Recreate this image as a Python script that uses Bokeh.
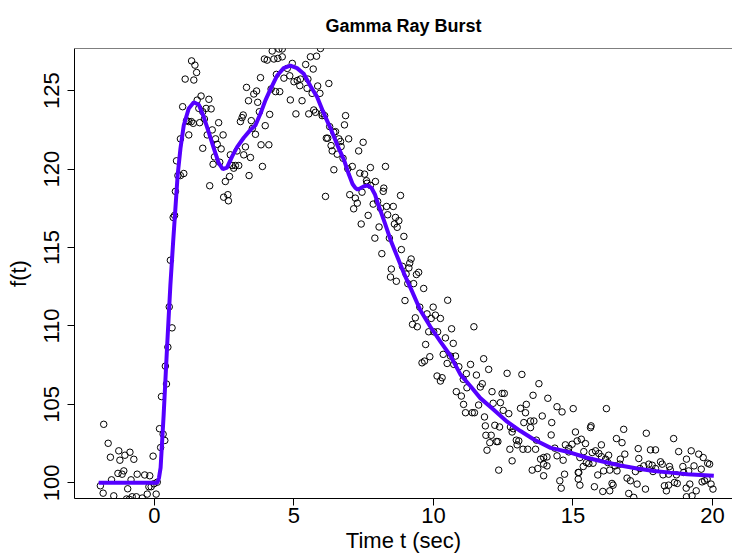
from bokeh.plotting import figure
from bokeh.models import Span, FixedTicker, Range1d
from bokeh.embed import file_html
from bokeh.resources import INLINE

# ---- data ----
t_obs = [-1.94, -1.84, -1.82, -1.66, -1.58, -1.54, -1.46, -1.31, -1.28, -1.24, -1.16, -1.1, -1.06, -1.0, -0.96,
         -0.9, -0.88, -0.84, -0.8, -0.74, -0.65, -0.62, -0.44, -0.35, -0.26, -0.2, -0.17, -0.12, -0.05, -0.02,
         0.06, 0.1, 0.18, 0.22, 0.31, 0.37,
         0.25, 0.39, 0.43, 0.48, 0.53, 0.57, 0.63, 0.67, 0.72, 0.75, 0.79, 0.84, 0.93, 0.93, 1.01, 1.05,
         1.1, 1.15, 1.23, 1.23, 1.32, 1.33, 1.39, 1.41, 1.45, 1.51, 1.53, 1.59, 1.62, 1.67, 1.73, 1.73,
         1.79, 1.85, 1.89, 1.95, 1.98, 2.03, 2.07, 2.1, 2.15, 2.19, 2.25, 2.3, 2.34, 2.39, 2.46, 2.48,
         2.54, 2.63, 2.65, 2.69, 2.72, 2.78, 2.84, 2.9, 2.96, 3.02, 3.08, 3.14, 3.18, 3.2, 3.26, 3.3,
         3.37, 3.39, 3.44, 3.47, 3.51, 3.56, 3.62, 3.66, 3.7, 3.76, 3.8, 3.82, 3.87, 3.94, 3.97, 4.04,
         4.1, 4.13, 4.18, 4.22, 4.28, 4.34, 4.37, 4.42, 4.46, 4.49, 4.58, 4.58, 4.64, 4.76, 4.85, 4.87,
         4.94, 5.0, 5.07, 5.12, 5.21, 5.23, 5.29, 5.42, 5.47, 5.5, 5.53, 5.59, 5.65, 5.69, 5.71, 5.77,
         5.81, 5.85, 5.93, 5.95, 6.01, 6.01, 6.1, 6.13, 6.16, 6.21, 6.25, 6.28, 6.33, 6.37, 6.43, 6.43,
         6.49, 6.55, 6.61, 6.67, 6.69, 6.76, 6.81, 6.85, 6.93, 6.96, 7.0, 7.09, 7.14, 7.2, 7.27, 7.32,
         7.36, 7.41, 7.44, 7.48, 7.53, 7.6, 7.62, 7.66, 7.74, 7.74, 7.84, 7.9, 7.92, 8.0, 8.05, 8.1,
         8.15, 8.2, 8.22, 8.28, 8.32, 8.36, 8.42, 8.46, 8.49, 8.56, 8.6, 8.64, 8.67, 8.7, 8.76, 8.82,
         8.85, 8.89, 8.94, 8.98, 9.02, 9.08, 9.12, 9.15, 9.2, 9.25, 9.29, 9.35, 9.39, 9.42, 9.47, 9.51,
         9.59, 9.65, 9.68, 9.72, 9.77, 9.83, 9.87, 9.92, 9.99, 10.01, 10.07, 10.13, 10.15, 10.25, 10.25, 10.31,
         10.35, 10.43, 10.49, 10.51, 10.61, 10.65, 10.71, 10.73, 10.79, 10.82, 10.91, 11.0, 11.07, 11.08, 11.15, 11.18,
         11.2, 11.33, 11.39, 11.45, 11.47, 11.54, 11.62, 11.68, 11.75, 11.8, 11.83, 11.86, 11.88, 11.92, 11.98, 12.02,
         12.07, 12.1, 12.14, 12.2, 12.26, 12.31, 12.34, 12.37, 12.4, 12.46, 12.5, 12.54, 12.64, 12.7, 12.74, 12.76,
         12.82, 12.82, 12.86, 12.97, 13.0, 13.06, 13.12, 13.17, 13.21, 13.24, 13.3, 13.33, 13.38, 13.48, 13.48, 13.54,
         13.57, 13.6, 13.66, 13.69, 13.74, 13.78, 13.84, 13.9, 13.95, 13.95, 13.95, 14.07, 14.07, 14.1, 14.22, 14.24,
         14.35, 14.43, 14.43, 14.53, 14.58, 14.61, 14.65, 14.7, 14.73, 14.85, 14.85, 14.97, 15.01, 15.09, 15.15, 15.19,
         15.19, 15.21, 15.25, 15.25, 15.3, 15.37, 15.39, 15.45, 15.48, 15.57, 15.63, 15.65, 15.69, 15.72, 15.77, 15.81,
         15.89, 15.93, 16.02, 16.02, 16.07, 16.1, 16.17, 16.2, 16.25, 16.28, 16.32, 16.32, 16.4, 16.44, 16.51, 16.56,
         16.58, 16.68, 16.7, 16.76, 16.82, 16.86, 16.94, 17.0, 17.06, 17.18, 17.24, 17.3, 17.34, 17.36, 17.4, 17.54,
         17.6, 17.63, 17.72, 17.78, 17.84, 17.87, 17.96, 17.96, 18.14, 18.2, 18.23, 18.28, 18.35, 18.43, 18.43, 18.46,
         18.49, 18.61, 18.64, 18.71, 18.74, 18.79, 18.94, 18.97, 19.06, 19.07, 19.07, 19.15, 19.19, 19.24, 19.27, 19.34,
         19.42, 19.51, 19.6, 19.63, 19.67, 19.72, 19.81, 19.83, 19.9, 19.95, 20.02]
f_obs = [99.81, 99.34, 103.73, 102.52, 101.63, 100.19, 99.17, 100.6, 102.04, 101.44, 100.55, 100.76, 101.76, 98.97, 99.62,
         98.95, 101.95, 100.19, 99.11, 101.5, 99.11, 100.55, 99.03, 100.5, 99.28, 99.75, 100.45, 99.75, 101.7, 99.94,
         99.28, 100.04, 103.45, 102.25, 103.1, 102.7,
         105.5, 107.44, 106.3, 108.65, 111.22, 114.19, 109.88, 116.92, 117.05, 118.58, 120.53, 119.59, 119.59, 121.93, 123.98, 119.72,
         125.74, 123.09, 123.03, 122.18, 123.03, 126.9, 122.92, 125.68, 126.63, 126.16, 124.4, 123.87, 122.96, 124.66, 123.66, 121.33,
         123.2, 123.87, 122.18, 124.45, 118.94, 123.84, 122.5, 120.31, 120.78, 121.93, 121.58, 122.96, 120.44, 121.29, 122.18, 118.21,
         119.21, 118.37, 117.98, 119.53, 120.91, 120.23, 120.06, 120.23, 121.16, 120.23, 123.03, 123.28, 123.45, 120.91, 121.42, 125.21,
         124.36, 119.59, 120.74, 123.09, 122.6, 124.79, 122.22, 124.98, 124.26, 123.66, 125.83, 121.55, 120.17, 127.02, 122.77, 126.95,
         121.55, 123.49, 125.11, 127.53, 127.02, 124.94, 126.04, 127.06, 127.66, 124.94, 127.16, 127.66, 125.8, 126.42, 125.95, 124.41,
         126.74, 125.57, 123.52, 125.65, 125.32, 125.74, 124.36, 126.67, 125.15, 125.74, 123.52, 127.16, 124.83, 126.38, 123.77, 123.62,
         127.2, 125.3, 124.83, 127.69, 123.56, 123.41, 123.41, 118.26, 121.97, 121.97, 125.46, 122.71, 121.5, 121.16, 122.35, 119.96,
         122.39, 120.95, 121.93, 121.76, 121.44, 120.69, 122.82, 123.41, 120.02, 121.93, 118.37, 120.17, 117.47, 118.15, 117.83, 121.16,
         119.74, 116.5, 118.53, 121.71, 119.68, 119.26, 119.1, 117.05, 120.1, 118.96, 117.77, 115.6, 119.21, 117.94, 116.31, 117.51,
         114.61, 118.58, 118.79, 120.17, 117.62, 117.09, 115.6, 113.12, 113.63, 117.62, 116.5, 116.92, 112.85, 116.29, 116.71, 118.32,
         114.87, 113.8, 115.71, 111.62, 113.31, 112.7, 113.7, 114.01, 114.27, 110.1, 112.7, 110.52, 113.28, 109.95, 113.42, 111.2,
         107.65, 112.39, 107.76, 108.82, 110.77, 109.63, 108.04, 110.48, 111.2, 109.63, 110.69, 106.81, 109.63, 110.48, 106.49, 106.7,
         108.19, 109.24, 107.61, 111.64, 108.08, 109.82, 108.89, 107.55, 108.08, 105.81, 107.4, 105.53, 106.6, 105.0, 104.47, 106.96,
         106.06, 107.55, 104.47, 109.95, 104.47, 106.87, 104.96, 106.11, 106.32, 107.91, 104.2, 103.63, 103.03, 102.08, 107.23, 102.56,
         103.03, 105.81, 105.07, 103.67, 102.63, 102.63, 100.81, 103.56, 105.11, 105.7, 104.62, 105.7, 106.98, 104.41, 102.14, 103.56,
         103.24, 101.4, 103.45, 102.72, 102.42, 102.67, 104.75, 106.91, 102.14, 103.84, 104.47, 105.0, 102.14, 103.94, 103.52, 100.81,
         105.58, 103.94, 102.14, 102.72, 100.91, 106.32, 101.51, 104.26, 101.61, 101.19, 100.45, 101.65, 101.08, 105.39, 103.05, 103.84,
         102.21, 104.85, 101.72, 100.13, 99.66, 104.52, 101.44, 100.55, 102.42, 102.21, 101.97, 102.46, 104.73, 103.24, 102.67, 100.66,
         100.24, 100.66, 101.61, 99.85, 102.78, 101.04, 101.99, 102.5, 101.29, 101.23, 103.52, 103.63, 101.93, 101.25, 99.75, 102.04,
         100.5, 101.87, 102.42, 101.67, 99.45, 100.76, 101.51, 104.73, 101.29, 101.76, 100.81, 99.49, 99.96, 99.85, 101.08, 102.82,
         100.76, 101.19, 101.51, 102.56, 103.41, 101.83, 100.3, 99.32, 100.13, 99.07, 100.72, 99.92, 102.18, 101.55, 100.91, 101.08,
         99.6, 103.16, 101.19, 102.1, 101.12, 100.72, 102.1, 100.91, 101.34, 101.19, 100.51, 99.81, 99.49, 100.55, 99.85, 101.04,
         100.83, 102.82, 100.02, 100.51, 99.96, 101.99, 101.04, 100.66, 99.66, 101.51, 99.11, 100.76, 99.92, 102.04, 99.17, 101.08,
         99.49, 101.83, 100.87, 100.06, 101.61, 100.13, 100.24, 101.25, 101.19, 99.92, 99.6]

t_fit = [-2.0, -1.0, 0.0, 0.1, 0.16, 0.22, 0.33, 0.45, 0.57, 0.67, 0.75, 0.83, 0.93, 1.05, 1.23, 1.41, 1.59, 1.77,
         1.95, 2.13, 2.3, 2.45, 2.6, 2.78, 2.96, 3.2, 3.44, 3.62, 3.8, 3.98, 4.16, 4.4, 4.63, 4.87, 5.11, 5.35,
         5.59, 5.83, 6.07, 6.31, 6.55, 6.79, 6.96, 7.1, 7.2, 7.28, 7.38, 7.5, 7.65, 7.78, 7.9, 8.01, 8.25, 8.49, 8.73,
         8.97, 9.21, 9.53, 9.89, 10.25, 10.61, 10.97, 11.33, 11.68, 12.16, 12.64, 13.12, 13.6, 14.2, 14.91, 15.5,
         16.1, 16.7, 17.3, 17.9, 18.5, 19.1, 20.05]
f_fit = [100.0, 100.0, 100.0, 100.0, 100.3, 100.97, 104.36, 108.6, 112.6, 115.39, 117.5, 119.6, 121.3, 122.8, 123.87, 124.26, 124.1, 123.3,
         122.33, 121.3, 120.4, 120.0, 120.1, 120.8, 121.4, 122.0, 122.5, 122.8, 123.55, 124.4, 125.1, 125.97, 126.44, 126.6, 126.44, 126.08,
         125.3, 124.6, 123.55, 122.6, 121.55, 120.6, 119.7, 119.05, 118.8, 118.7, 118.78, 118.9, 118.95, 118.8, 118.4, 117.8, 116.6, 115.35, 114.3,
         113.24, 112.3, 111.0, 109.95, 109.0, 108.1, 106.9, 106.16, 105.4, 104.66, 103.9, 103.3, 102.76, 102.23, 101.93, 101.6,
         101.34, 101.1, 100.91, 100.76, 100.65, 100.55, 100.45]

x_ticks = [0, 5, 10, 15, 20]
y_ticks = [100, 105, 110, 115, 120, 125]

FONT = "Liberation Sans"

p = figure(width=732, height=559, output_backend="svg", toolbar_location=None,
           x_range=Range1d(-2.867, 20.72), y_range=Range1d(99.0, 127.69),
           min_border_left=74, min_border_right=0, min_border_top=47, min_border_bottom=61,
           title="Gamma Ray Burst")
p.outline_line_color = None
p.grid.visible = False
p.background_fill_color = "white"
p.border_fill_color = "white"

p.title.align = "center"
p.title.offset = 2
p.title.standoff = 26
p.title.text_font = FONT
p.title.text_font_size = "18px"
p.title.text_font_style = "bold"
p.title.text_color = "black"

p.xaxis.ticker = FixedTicker(ticks=x_ticks)
p.yaxis.ticker = FixedTicker(ticks=y_ticks)
p.yaxis.major_label_orientation = "vertical"
for ax in (p.xaxis[0], p.yaxis[0]):
    ax.minor_tick_line_color = None
    ax.major_tick_out = 7
    ax.major_tick_in = 0
    ax.axis_line_color = "black"
    ax.major_tick_line_color = "black"
    ax.major_label_text_font = FONT
    ax.major_label_text_font_size = "22px"
    ax.major_label_text_color = "black"
    ax.axis_label_text_font = FONT
    ax.axis_label_text_font_size = "22px"
    ax.axis_label_text_font_style = "normal"
    ax.axis_label_text_color = "black"
p.xaxis.axis_label = "Time t (sec)"
p.yaxis.axis_label = "f(t)"
p.xaxis.major_label_standoff = 2
p.yaxis.major_label_standoff = 8
p.xaxis.axis_label_standoff = 2
p.yaxis.axis_label_standoff = 11

p.add_layout(Span(location=127.69, dimension="width", line_color="black", line_width=1))

p.scatter(t_obs, f_obs, marker="circle", size=6.5, fill_color=None, line_color="black", line_width=1)
p.line(t_fit, f_fit, line_color="#5500ff", line_width=4)

open("out.html", "w").write(file_html(p, INLINE))
